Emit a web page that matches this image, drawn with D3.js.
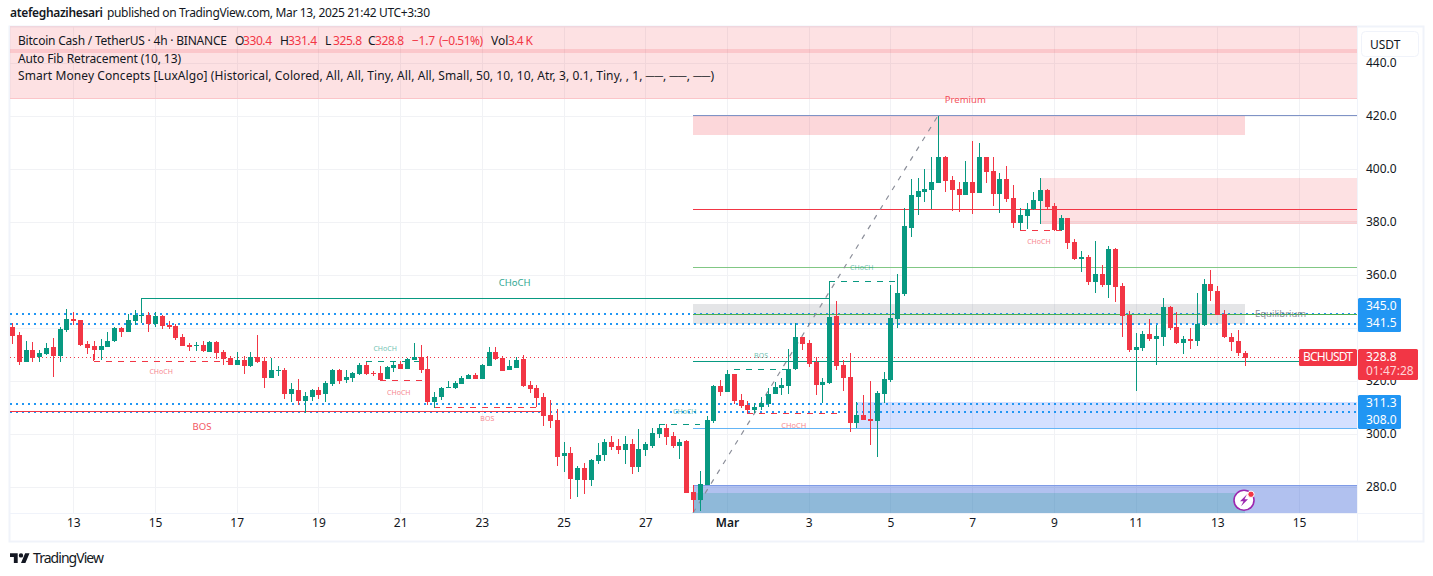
<!DOCTYPE html>
<html>
<head>
<meta charset="utf-8">
<script src="https://cdn.jsdelivr.net/npm/d3@7"></script>
<style>
  html, body { margin: 0; background: #fff; }
  svg { display: block; }
  text { font-family: "Noto Sans", sans-serif; fill: #131722; }
  .axis text { font-size: 12px; }
  .axis path { display: none; }
  .axis line { stroke: #f1f2f5; }
</style>
</head>
<body>
<svg id="chart" width="1433" height="576"></svg>
<script>
// BCHUSDT 4h candles, bar 0 = Feb 11 12:00
const opens = [
  340.5,337.4,327.3,331.7,329.1,330.2,332.8,329.4,339.3,343.4,
  343.0,334.0,333.2,331.7,332.8,335.1,340.0,338.5,342.6,344.6,
  344.9,341.5,344.5,341.1,340.8,336.6,333.6,333.2,333.6,330.9,
  334.7,330.9,328.7,326.0,327.9,325.7,329.1,327.6,321.1,323.9,
  324.2,315.1,316.6,312.5,314.0,316.6,315.1,318.9,324.2,320.4,
  321.1,322.6,326.0,323.2,323.0,320.8,324.9,326.4,324.5,327.9,
  329.1,324.5,312.1,314.0,317.4,317.4,318.9,320.8,322.3,320.8,
  325.7,330.9,328.7,324.2,324.9,328.3,318.5,317.4,314.0,307.2,
  305.3,291.7,292.8,282.6,287.2,282.6,289.8,292.1,297.0,295.5,
  293.9,296.2,287.5,293.9,295.5,300.0,302.3,299.2,295.5,297.4,
  278.1,275.1,280.7,304.9,318.1,315.8,322.6,312.8,310.9,309.0,
  310.2,311.3,315.1,317.4,318.1,324.5,336.6,334.3,327.2,318.5,
  319.2,344.5,326.0,321.5,304.2,307.2,305.7,304.9,315.1,320.4,
  343.4,352.8,377.7,389.4,391.3,392.1,394.7,404.5,395.8,392.4,
  390.2,395.1,391.0,404.5,399.2,390.6,396.2,389.0,379.6,382.3,
  384.9,387.9,392.1,386.0,377.0,381.5,372.4,366.0,366.8,357.4,
  360.4,356.2,369.8,355.8,344.9,331.7,332.5,337.7,335.9,336.6,
  347.9,340.4,334.3,335.9,335.1,341.1,356.6,354.0,345.3,336.6,
  335.1,330.4];
const highs = [
  342.0,338.5,335.1,334.7,331.7,334.3,336.2,340.4,347.2,346.0,
  343.0,335.1,335.1,335.9,338.5,340.4,340.4,345.3,346.8,346.0,
  346.0,346.0,344.9,342.6,341.5,337.7,334.3,334.7,335.1,335.1,
  335.1,331.7,329.4,330.9,329.4,330.9,337.4,329.1,328.7,325.7,
  324.9,319.2,320.7,315.9,317.0,317.7,320.0,324.5,324.5,324.2,
  323.4,326.8,327.3,323.9,325.7,325.7,327.6,327.6,328.7,334.3,
  333.6,329.4,315.9,317.7,320.0,320.0,321.9,322.6,323.0,326.4,
  332.8,332.8,329.4,327.9,329.1,329.8,320.0,318.5,315.5,312.8,
  309.4,297.0,295.1,287.9,289.0,290.6,296.6,298.1,299.2,298.1,
  299.2,298.1,301.9,297.0,302.3,303.8,303.8,300.8,298.1,297.8,
  280.7,286.0,306.8,318.5,320.4,324.2,322.6,315.1,312.4,311.7,
  313.9,317.4,319.6,321.1,332.1,341.9,336.6,335.5,329.0,321.1,
  357.6,350.2,327.9,330.6,312.1,314.7,320.0,316.2,323.4,356.2,
  360.4,385.3,396.2,396.6,400.0,404.5,420.0,404.9,397.4,395.1,
  403.0,410.6,409.8,404.5,404.5,398.5,401.1,393.9,385.3,387.2,
  391.3,396.6,392.5,387.2,382.6,381.5,373.6,369.0,367.5,372.8,
  363.8,370.9,370.2,357.0,346.4,338.1,338.9,343.4,341.1,351.3,
  348.3,346.0,337.0,340.0,353.2,358.5,361.9,355.8,346.8,338.1,
  339.2,331.4];
const lows = [
  334.0,326.0,327.3,327.3,327.3,329.8,321.6,327.2,338.5,341.1,
  333.2,330.2,327.9,327.9,332.8,334.7,336.6,338.5,341.1,341.9,
  338.5,340.4,339.6,339.6,335.5,333.2,331.3,331.3,330.9,330.9,
  328.3,326.0,326.0,326.0,322.6,325.3,326.8,317.4,321.1,321.9,
  313.2,312.1,311.0,308.0,312.5,313.2,312.1,318.1,318.9,319.2,
  319.6,322.3,322.3,321.9,320.4,320.8,323.4,324.5,324.5,327.9,
  323.2,311.0,309.8,312.8,317.4,317.0,318.9,320.8,320.8,320.8,
  325.7,327.9,323.8,324.2,324.9,317.7,315.5,310.2,303.0,302.3,
  287.9,285.7,275.5,276.2,277.4,280.4,288.7,289.8,293.9,292.4,
  288.7,284.9,285.7,291.7,294.7,298.5,295.9,294.7,290.6,277.7,
  270.4,270.9,280.7,304.2,314.3,315.8,311.3,309.8,307.5,307.9,
  309.0,310.2,315.1,314.7,315.1,324.2,331.7,325.3,314.7,311.7,
  318.9,324.2,316.2,300.8,302.3,305.3,295.8,291.3,311.7,319.6,
  340.0,352.1,374.3,382.6,387.5,384.9,394.7,391.3,384.2,383.8,
  390.2,383.0,391.0,394.7,386.0,383.4,387.5,377.7,377.0,377.4,
  384.5,379.2,384.9,376.6,376.6,369.8,365.7,361.1,356.2,353.2,
  355.5,351.3,349.8,336.6,330.9,316.2,331.3,335.1,326.0,333.2,
  339.2,334.0,330.2,332.1,333.2,340.8,350.2,344.9,336.2,331.3,
  329.4,325.8];
const closes = [
  337.1,327.3,331.7,328.8,330.6,332.5,329.4,339.6,343.4,342.6,
  333.6,332.5,331.7,333.2,335.1,340.0,338.5,343.0,344.9,344.9,
  341.5,344.5,340.8,340.4,336.2,333.2,332.8,333.6,331.3,334.7,
  330.6,328.3,326.0,327.9,325.7,329.1,327.2,321.1,324.2,324.2,
  315.1,317.0,312.5,314.3,316.6,314.7,319.2,324.2,320.0,321.5,
  323.0,326.0,322.6,322.6,320.4,325.3,326.0,324.5,328.3,329.1,
  324.2,312.1,314.0,317.4,317.7,319.2,321.1,322.3,320.8,326.0,
  330.9,328.3,323.8,325.7,327.9,318.1,317.0,313.6,306.8,304.9,
  291.3,292.8,283.0,287.2,282.6,290.2,292.1,297.0,295.1,293.9,
  296.2,287.5,294.3,296.2,300.4,302.3,298.9,295.5,297.0,277.7,
  275.1,281.1,305.3,318.1,315.8,322.6,312.4,310.6,309.0,310.2,
  311.7,315.1,317.7,318.5,324.5,336.6,333.9,326.4,318.5,319.6,
  344.2,325.7,321.1,304.2,307.2,305.3,304.9,315.5,320.7,343.8,
  353.2,378.5,390.2,391.7,392.4,395.1,404.5,395.5,392.1,390.2,
  395.1,391.0,404.5,398.9,390.6,396.2,388.7,379.6,382.6,384.9,
  388.3,392.1,385.6,377.0,381.5,372.1,366.0,366.8,357.4,360.4,
  356.2,369.8,355.5,344.5,331.7,332.8,337.7,335.9,337.0,347.9,
  340.0,334.3,335.9,335.1,341.5,356.6,354.0,344.9,336.6,334.7,
  330.6,328.8];

const priceTicks = [440, 420, 400, 380, 360, 340, 320, 300, 280];
// 340.0 sits fully under the blue tag, so no label for it
const priceLabels = [440, 420, 400, 380, 360, 320, 300, 280];
const dayTicks = [
  [1, 13], [1, 15], [1, 17], [1, 19], [1, 21], [1, 23], [1, 25], [1, 27],
  [2, 1], [2, 3], [2, 5], [2, 7], [2, 9], [2, 11], [2, 13], [2, 15]
];

// dotted levels, the ones with a blue tag on the price axis
const dottedLevels = [345.0, 341.5, 311.3, 308.0];
const lastClose = 328.8;

// fib lines from bar 100 to the right edge: price, colour
const fibPrices = [420, 384.6, 362.6, 345.0, 327.2, 301.9];
const fibColors = ["#7f93c6", "#f23645", "#81c784", "#4caf50", "#089981", "#64b5f6"];

// boxes: first bar, last bar, top price, bottom price, fill
const zoneBars = [[-2, 198], [100, 181], [100, 181], [100, 198], [100, 181], [124, 198], [151, 198], [-2, 198]];
const zonePrices = [[454, 426.6], [420, 412.6], [348.9, 341.3], [280.2, 270], [277.7, 270], [311.9, 301.9], [396.4, 379.1], [445.1, 443.6]];
const zoneFills = [
  "rgba(242,54,69,.15)", "rgba(242,54,69,.2)", "rgba(120,123,134,.2)", "rgba(60,100,215,.4)",
  "rgba(8,153,129,.2)", "rgba(41,98,255,.2)", "rgba(242,54,69,.15)", "rgba(242,54,69,.15)"
];

// market structure lines: first bar, last bar, price, side, dashed
const structBars = [[19, 120], [-2, 78], [12, 32], [54, 61], [62, 78], [108, 122], [52, 60], [95, 101], [106, 114], [120, 130], [148, 154]];
const structPrices = [351.0, 308.2, 327.2, 320.1, 309.9, 307.6, 327.2, 303.5, 324.2, 357.3, 376.7];
const structUp = [1, 0, 0, 0, 0, 0, 1, 1, 1, 1, 0];
const structDashed = [0, 0, 1, 1, 1, 1, 1, 1, 1, 1, 1];

// labels: text, bar, price, size, colour
const labelText = ["CHoCH", "BOS", "CHoCH", "CHoCH", "CHoCH", "BOS", "CHoCH", "BOS", "CHoCH", "CHoCH", "CHoCH", "Premium", "Equilibrium"];
const labelBars = [73.8, 27.9, 21.9, 54.8, 56.8, 69.8, 98.8, 110, 114.8, 124.8, 150.8, 140, 186.3];
const labelPrices = [356.8, 302.3, 323.3, 331.7, 315.4, 305.3, 308.2, 329.3, 302.9, 362.3, 372.3, 425.8, 345.1];
const labelSizes = [9.5, 9.5, 7, 7, 7, 7, 7, 7, 7.5, 7, 7, 9.5, 9.5];
const labelColors = ["#089981", "#f23645", "#f23645", "#089981", "#f23645", "#f23645", "#089981", "#089981", "#f23645", "#089981", "#f23645", "#f23645", "#787b86"];

const up = "#089981", down = "#f23645", tagBlue = "#2196f3";

const barMs = 4 * 3600 * 1000;
const bar0 = Date.UTC(2025, 1, 11, 12);
const dates = opens.map((d, i) => new Date(bar0 + i * barMs));

const x = d3.scaleUtc()
  .domain([new Date(Date.UTC(2025, 1, 13)), new Date(Date.UTC(2025, 2, 1))])
  .range([73.3, 727]);
const barX = i => x(new Date(bar0 + i * barMs));
const y = d3.scaleLinear().domain([420, 280]).range([115.5, 486.5]);

const paneLeft = 10, paneRight = 1357, paneTop = 26, paneBottom = 513;
const svg = d3.select("#chart");

// outer frame
svg.append("rect").attr("x", 9.5).attr("y", 26.5).attr("width", 1414).attr("height", 515)
  .attr("fill", "none").attr("stroke", "#f0f3fa").attr("stroke-width", 2);
svg.append("defs").append("clipPath").attr("id", "pane").append("rect")
  .attr("x", paneLeft).attr("y", paneTop).attr("width", paneRight - paneLeft).attr("height", paneBottom - paneTop);

// grid + axes
const xAxis = d3.axisBottom(x)
  .tickValues(dayTicks.map(d => new Date(Date.UTC(2025, d[0], d[1]))))
  .tickSize(0).tickPadding(0)
  .tickFormat(d => d.getUTCMonth() === 2 && d.getUTCDate() === 1 ? "Mar" : d.getUTCDate());
const yAxis = d3.axisRight(y).tickValues(priceLabels).tickSize(0).tickFormat(d3.format(".1f"));

const pane = svg.append("g").attr("clip-path", "url(#pane)");

pane.append("g").attr("class", "axis")
  .attr("transform", `translate(0,${paneBottom})`)
  .call(d3.axisBottom(x).tickValues(xAxis.tickValues()).tickSize(paneTop - paneBottom).tickFormat(""));
pane.append("g").attr("class", "axis")
  .attr("transform", `translate(${paneRight},0)`)
  .call(d3.axisRight(y).tickValues(priceTicks).tickSize(paneLeft - paneRight).tickFormat(""));

svg.selectAll(".axis line").attr("shape-rendering", "crispEdges");

// zones
pane.selectAll(".zone").data(zoneBars).enter().append("rect").attr("class", "zone")
  .attr("x", d => barX(d[0]))
  .attr("width", d => barX(d[1]) - barX(d[0]))
  .attr("y", (d, i) => y(zonePrices[i][0]))
  .attr("height", (d, i) => y(zonePrices[i][1]) - y(zonePrices[i][0]))
  .attr("fill", (d, i) => zoneFills[i])
  .attr("shape-rendering", "crispEdges");

const hline = (b0, b1, p, color, w, dash) => pane.append("line")
  .attr("x1", barX(b0)).attr("x2", barX(b1)).attr("y1", y(p)).attr("y2", y(p))
  .attr("stroke", color).attr("stroke-width", w).attr("stroke-dasharray", dash || null)
  .attr("shape-rendering", "crispEdges");

// edges of a few boxes
hline(-2, 198, 426.6, "#fbc5c9", 1);
hline(151, 198, 379.1, "#f9cdd0", 1);
hline(151, 198, 380.0, "#f9cdd0", 1);
hline(100, 198, 280.2, "#7f9be6", 1);
hline(100, 198, 270.0, "#7f9be6", 1);

// dotted levels
dottedLevels.forEach(p => hline(-2, 198, p, tagBlue, 2, "2 4"));
hline(-2, 198, lastClose, down, 1, "1 3");

// fib lines
fibPrices.forEach((p, i) => hline(100, 198, p, fibColors[i], 1));

// fib anchor line
pane.append("line")
  .attr("x1", barX(100)).attr("y1", y(270)).attr("x2", barX(136)).attr("y2", y(420))
  .attr("stroke", "#8b8e99").attr("stroke-width", 1.2).attr("stroke-dasharray", "5 6.5");

// structure lines
structBars.forEach((b, i) => {
  const color = structUp[i] ? up : down;
  hline(b[0], b[1], structPrices[i], color, 1, structDashed[i] ? "6 6" : null);
});
// the little legs that go down or up from the start of a structure line
const legs = [[19, 351.0, 342.0, up], [12, 327.2, 330.0, down], [62, 309.9, 311.5, down], [120, 357.3, 344.0, up]];
legs.forEach(l => pane.append("line")
  .attr("x1", barX(l[0])).attr("x2", barX(l[0])).attr("y1", y(l[1])).attr("y2", y(l[2]))
  .attr("stroke", l[3]).attr("shape-rendering", "crispEdges"));

// candles
const bars = pane.append("g");
const rx = v => Math.round(v);
bars.selectAll(".wick").data(dates).enter().append("line").attr("class", "wick")
  .attr("x1", (d, i) => rx(x(d)) + 0.5).attr("x2", (d, i) => rx(x(d)) + 0.5)
  .attr("y1", (d, i) => Math.round(y(highs[i]) + 0.5))
  .attr("y2", (d, i) => Math.round(y(lows[i]) + 0.5))
  .attr("stroke", (d, i) => closes[i] < opens[i] ? down : up)
  .attr("shape-rendering", "crispEdges");
bars.selectAll(".body").data(dates).enter().append("rect").attr("class", "body")
  .attr("x", d => rx(x(d)) - 2)
  .attr("width", 5)
  .attr("y", (d, i) => Math.round(y(Math.max(opens[i], closes[i])) + 0.5))
  .attr("height", (d, i) => Math.max(1, Math.round(y(Math.min(opens[i], closes[i])) + 0.5) - Math.round(y(Math.max(opens[i], closes[i])) + 0.5)))
  .attr("fill", (d, i) => closes[i] < opens[i] ? down : up);

// structure / zone labels
pane.selectAll(".lab").data(labelText).enter().append("text").attr("class", "lab")
  .attr("x", (d, i) => barX(labelBars[i]))
  .attr("y", (d, i) => y(labelPrices[i]))
  .attr("text-anchor", "middle").attr("dominant-baseline", "middle")
  .attr("font-size", (d, i) => labelSizes[i])
  .attr("opacity", (d, i) => labelSizes[i] > 9 ? 0.85 : 0.6)
  .style("fill", (d, i) => labelColors[i])
  .text(d => d);

// pane separators
svg.append("line").attr("x1", paneRight + 0.5).attr("x2", paneRight + 0.5).attr("y1", paneTop).attr("y2", 541).attr("stroke", "#f0f3fa");
svg.append("line").attr("x1", paneLeft).attr("x2", 1423).attr("y1", paneBottom + 0.5).attr("y2", paneBottom + 0.5).attr("stroke", "#f0f3fa");

// axis labels
svg.append("g").attr("class", "axis").attr("transform", "translate(0,518)").call(xAxis)
  .selectAll("text").attr("font-weight", d => d.getUTCMonth() === 2 && d.getUTCDate() === 1 ? 600 : 400);
svg.append("g").attr("class", "axis").attr("transform", "translate(1366,0)").call(yAxis)
  .selectAll("text").attr("x", 0).attr("text-anchor", "start");

// legend text on the pane, first row placed piece by piece
const legend = svg.append("g");
const legendBits = [
  ["Bitcoin Cash / TetherUS · 4h · BINANCE", "#131722", 18, 209],
  ["O", "#131722", 235], ["330.4", down, 243, 29],
  ["H", "#131722", 280], ["331.4", down, 288, 29],
  ["L", "#131722", 325], ["325.8", down, 333, 29],
  ["C", "#131722", 368], ["328.8", down, 375, 29],
  ["−1.7", down, 412, 23], ["(−0.51%)", down, 439, 44],
  ["Vol", "#131722", 491], ["3.4 K", down, 508, 25]
];
legendBits.forEach(b => legend.append("text").attr("x", b[2]).attr("y", 45).attr("font-size", 12)
  .attr("textLength", b[3] || null).style("fill", b[1]).text(b[0]));
legend.append("text").attr("x", 18).attr("y", 63).attr("font-size", 12).attr("textLength", 163)
  .text("Auto Fib Retracement (10, 13)");
legend.append("text").attr("x", 18).attr("y", 80).attr("font-size", 12).attr("textLength", 696)
  .text("Smart Money Concepts [LuxAlgo] (Historical, Colored, All, All, Tiny, All, All, Small, 50, 10, 10, Atr, 3, 0.1, Tiny, , 1, ──, ──, ──)");

// publisher line
svg.append("text").attr("x", 10).attr("y", 17).attr("font-size", 12).attr("font-weight", 600).attr("textLength", 93).text("atefeghazihesari");
svg.append("text").attr("x", 107).attr("y", 17).attr("font-size", 12).attr("textLength", 323).text("published on TradingView.com, Mar 13, 2025 21:42 UTC+3:30");

// currency button
svg.append("rect").attr("x", 1361.5).attr("y", 31.5).attr("width", 57).attr("height", 25).attr("rx", 4)
  .attr("fill", "#fff").attr("stroke", "#f0f3fa");
svg.append("text").attr("x", 1370).attr("y", 49).attr("font-size", 12).text("USDT");

// price tags
const tag = (xx, yy, w, h, fill) => svg.append("rect").attr("x", xx).attr("y", yy).attr("width", w).attr("height", h).attr("rx", 1.5).attr("fill", fill);
const tagText = (xx, yy, s, fill) => svg.append("text").attr("x", xx).attr("y", yy).attr("font-size", 12)
  .attr("dominant-baseline", "middle").style("fill", fill || "#fff").text(s);

tag(1358, 298, 43, 34, tagBlue);
tagText(1366, 307, "345.0");
tagText(1366, 323.5, "341.5");
tag(1358, 395, 43, 34, tagBlue);
tagText(1366, 404, "311.3");
tagText(1366, 421, "308.0");
tag(1299, 349, 58, 17, down);
tagText(1303, 358, "BCHUSDT").attr("textLength", 50);
tag(1358, 349, 60, 31, down);
tagText(1366, 358, "328.8");
tagText(1366, 372, "01:47:28", "#ffd3d7");

// bolt badge
const badge = svg.append("g").attr("transform", `translate(1244,${y(274.8)})`);
badge.append("circle").attr("r", 10).attr("fill", "#fff").attr("stroke", "#9c27b0").attr("stroke-width", 1.6);
badge.append("path").attr("d", "M3 -6 L-4 1 L-0.5 1 L-3 6 L4 -1 L0.5 -1 Z").attr("fill", "#9c27b0");
badge.append("circle").attr("cx", 7).attr("cy", -6).attr("r", 3.2).attr("fill", "#f23645").attr("stroke", "#fff");

// logo
svg.append("path").attr("transform", "translate(10,551) scale(0.55)")
  .attr("d", "M14 22H7V11H0V4h14v18zM28 22h-8l7.5-18h8L28 22z M24 8a4 4 0 1 1-8 0a4 4 0 0 1 8 0z")
  .attr("fill", "#131722");
svg.append("text").attr("x", 33).attr("y", 563).attr("font-size", 14).attr("textLength", 71).text("TradingView");
</script>
</body>
</html>
